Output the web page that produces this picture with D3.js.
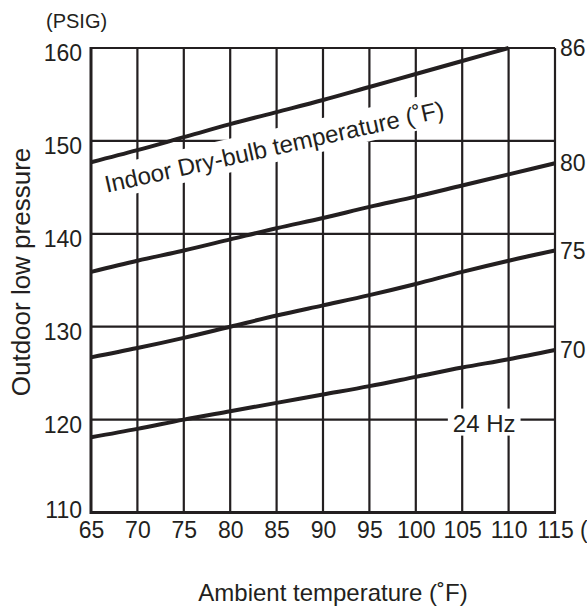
<!DOCTYPE html>
<html>
<head>
<meta charset="utf-8">
<script src="https://cdn.jsdelivr.net/npm/d3@7"></script>
<style>
  body { margin: 0; background: #fff; }
  text { font-family: "Liberation Sans", Arial, sans-serif; fill: #231f20; }
</style>
</head>
<body>
<div id="main"></div>
<script>
const width = 587;
const height = 610;

// ambient temperature (F)
const temps = [65, 70, 75, 80, 85, 90, 95, 100, 105, 110, 115];
// outdoor low pressure (PSIG) per indoor dry-bulb temperature
const p70 = [118.1, 119.0, 120.0, 120.9, 121.8, 122.7, 123.6, 124.6, 125.6, 126.5, 127.5];
const p75 = [126.7, 127.7, 128.8, 130.0, 131.2, 132.3, 133.4, 134.6, 135.9, 137.1, 138.2];
const p80 = [135.9, 137.1, 138.2, 139.4, 140.6, 141.7, 142.9, 144.0, 145.2, 146.4, 147.6];
const p86 = [147.7, 149.0, 150.4, 151.8, 153.1, 154.4, 155.8, 157.2, 158.6, 160.0];
const seriesNames = ['70', '75', '80', '86'];
const xTicks = [65, 70, 75, 80, 85, 90, 95, 100, 105, 110, 115];
const yTicks = [110, 120, 130, 140, 150, 160];

const series = [p70, p75, p80, p86].map((vals, i) => ({
    name: seriesNames[i],
    points: vals.map((v, j) => [temps[j], v])
}));

const ink = '#231f20';
const tickFont = 23;

const svg = d3.select('#main')
    .append('svg')
    .attr('width', width)
    .attr('height', height);

const x = d3.scaleLinear().domain([65, 115]).range([91, 555]);
const y = d3.scaleLinear().domain([110, 160]).range([512.5, 48]);

const g = svg.append('g');

// grid
g.selectAll('.vgrid')
    .data(xTicks.slice(1))
    .enter()
    .append('line')
    .attr('x1', d => x(d)).attr('x2', d => x(d))
    .attr('y1', y(160)).attr('y2', y(110))
    .attr('stroke', ink).attr('stroke-width', 2.2);

g.selectAll('.hgrid')
    .data(yTicks.slice(1))
    .enter()
    .append('line')
    .attr('x1', x(65)).attr('x2', x(115))
    .attr('y1', d => y(d)).attr('y2', d => y(d))
    .attr('stroke', ink).attr('stroke-width', 2.2);

// frame (left and bottom)
g.append('path')
    .attr('d', `M${x(65)},${y(160) - 1}V${y(110)}H${x(115) + 1}`)
    .attr('fill', 'none')
    .attr('stroke', ink)
    .attr('stroke-width', 3);

// axes labels
const yAxis = svg.append('g')
    .attr('transform', `translate(${x(65)},0)`)
    .call(d3.axisLeft(y).tickValues(yTicks).tickSize(0).tickPadding(9));
yAxis.select('.domain').remove();
yAxis.selectAll('text')
    .attr('font-size', tickFont)
    .attr('font-family', '"Liberation Sans", Arial, sans-serif')
    .attr('fill', ink)
    .attr('dy', d => d === 110 ? '0.2em' : '0.55em');

const xAxis = svg.append('g')
    .attr('transform', `translate(0,${y(110)})`)
    .call(d3.axisBottom(x).tickValues(xTicks).tickSize(0).tickPadding(9));
xAxis.select('.domain').remove();
xAxis.selectAll('text')
    .attr('font-size', tickFont)
    .attr('font-family', '"Liberation Sans", Arial, sans-serif')
    .attr('fill', ink);

svg.append('text')
    .attr('x', 580).attr('y', 538)
    .attr('font-size', tickFont)
    .text('(˚F)');

svg.append('text')
    .attr('x', 46).attr('y', 28)
    .attr('font-size', 20)
    .text('(PSIG)');

svg.append('text')
    .attr('transform', `translate(30,272) rotate(-90)`)
    .attr('text-anchor', 'middle')
    .attr('font-size', 26)
    .text('Outdoor low pressure');

svg.append('text')
    .attr('x', 333).attr('y', 601)
    .attr('text-anchor', 'middle')
    .attr('font-size', 24)
    .text('Ambient temperature (˚F)');

// rotated label with white box
const angle = -12.6;
const lab = svg.append('g')
    .attr('transform', `translate(276,155) rotate(${angle})`);
const labRect = lab.append('rect').attr('fill', '#fff');
const labText = lab.append('text')
    .attr('text-anchor', 'middle')
    .attr('font-size', 24)
    .text('Indoor Dry-bulb temperature (˚F)');
const lb = labText.node().getBBox();
labRect.attr('x', lb.x - 5).attr('y', lb.y - 4)
    .attr('width', lb.width + 10).attr('height', lb.height + 6);

// 24 Hz label with white box
const hz = svg.append('g').attr('transform', `translate(${x(105) + 22},${y(120)})`);
const hzRect = hz.append('rect').attr('fill', '#fff');
const hzText = hz.append('text')
    .attr('text-anchor', 'middle')
    .attr('dy', '0.5em')
    .attr('font-size', 24)
    .text('24 Hz');
const hb = hzText.node().getBBox();
hzRect.attr('x', hb.x - 5).attr('y', hb.y - 1)
    .attr('width', hb.width + 10).attr('height', hb.height);

// curves
const line = d3.line()
    .x(d => x(d[0]))
    .y(d => y(d[1]))
    .curve(d3.curveMonotoneX);

g.selectAll('.curve')
    .data(series)
    .enter()
    .append('path')
    .attr('class', 'curve')
    .attr('d', d => line(d.points))
    .attr('fill', 'none')
    .attr('stroke', ink)
    .attr('stroke-width', 4);

// right-side labels
svg.selectAll('.rlabel')
    .data(series)
    .enter()
    .append('text')
    .attr('x', x(115) + 5)
    .attr('y', d => y(d.points[d.points.length - 1][1]))
    .attr('dy', '0.36em')
    .attr('font-size', tickFont)
    .text(d => d.name);
</script>
</body>
</html>
